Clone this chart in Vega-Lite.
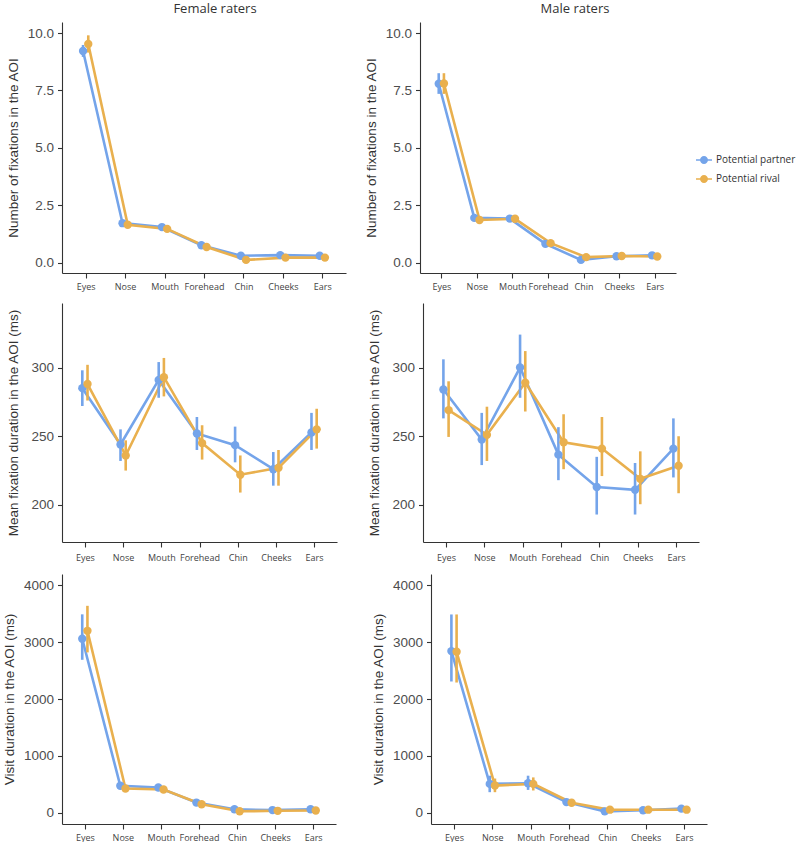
{
"$schema": "https://vega.github.io/schema/vega-lite/v6.json",
"padding": {"left": 2, "top": 3, "right": 0, "bottom": 0},
"background": "white",
"config": {
 "view": {"stroke": null},
 "axis": {"grid": false, "domainColor": "#333333", "tickColor": "#333333", "domainWidth": 1.1, "tickWidth": 1.1, "labelColor": "#4d4d4d", "titleColor": "#333333", "labelFont": "Liberation Sans", "titleFont": "Liberation Sans", "titleFontWeight": "normal"},
 "axisX": {"labelFont": "Open Sans", "labelFontSize": 9, "labelColor": "#444444", "tickSize": 5, "labelPadding": 4, "labelAngle": 0, "title": null},
 "axisY": {"labelFontSize": 13.5, "titleFontSize": 13.5, "tickSize": 4.5, "labelPadding": 4, "titlePadding": 7},
 "title": {"font": "Open Sans", "fontSize": 13, "fontWeight": "normal", "color": "#333333", "offset": 6, "frame": "group", "anchor": "middle"}
},
"datasets": {"d": [
{"r":"F","m":"fix","aoi":"Eyes","cond":"Potential partner","mean":9.22,"lo":8.96,"hi":9.48},
{"r":"F","m":"fix","aoi":"Nose","cond":"Potential partner","mean":1.72,"lo":1.6,"hi":1.84},
{"r":"F","m":"fix","aoi":"Mouth","cond":"Potential partner","mean":1.55,"lo":1.45,"hi":1.65},
{"r":"F","m":"fix","aoi":"Forehead","cond":"Potential partner","mean":0.76,"lo":0.68,"hi":0.84},
{"r":"F","m":"fix","aoi":"Chin","cond":"Potential partner","mean":0.3,"lo":0.24,"hi":0.36},
{"r":"F","m":"fix","aoi":"Cheeks","cond":"Potential partner","mean":0.33,"lo":0.27,"hi":0.39},
{"r":"F","m":"fix","aoi":"Ears","cond":"Potential partner","mean":0.3,"lo":0.24,"hi":0.36},
{"r":"F","m":"fix","aoi":"Eyes","cond":"Potential rival","mean":9.52,"lo":9.15,"hi":9.9},
{"r":"F","m":"fix","aoi":"Nose","cond":"Potential rival","mean":1.65,"lo":1.55,"hi":1.75},
{"r":"F","m":"fix","aoi":"Mouth","cond":"Potential rival","mean":1.47,"lo":1.37,"hi":1.57},
{"r":"F","m":"fix","aoi":"Forehead","cond":"Potential rival","mean":0.68,"lo":0.6,"hi":0.76},
{"r":"F","m":"fix","aoi":"Chin","cond":"Potential rival","mean":0.12,"lo":0.08,"hi":0.16},
{"r":"F","m":"fix","aoi":"Cheeks","cond":"Potential rival","mean":0.22,"lo":0.17,"hi":0.27},
{"r":"F","m":"fix","aoi":"Ears","cond":"Potential rival","mean":0.22,"lo":0.17,"hi":0.27},
{"r":"M","m":"fix","aoi":"Eyes","cond":"Potential partner","mean":7.79,"lo":7.35,"hi":8.25},
{"r":"M","m":"fix","aoi":"Nose","cond":"Potential partner","mean":1.95,"lo":1.83,"hi":2.07},
{"r":"M","m":"fix","aoi":"Mouth","cond":"Potential partner","mean":1.92,"lo":1.8,"hi":2.04},
{"r":"M","m":"fix","aoi":"Forehead","cond":"Potential partner","mean":0.82,"lo":0.74,"hi":0.9},
{"r":"M","m":"fix","aoi":"Chin","cond":"Potential partner","mean":0.12,"lo":0.08,"hi":0.16},
{"r":"M","m":"fix","aoi":"Cheeks","cond":"Potential partner","mean":0.28,"lo":0.23,"hi":0.33},
{"r":"M","m":"fix","aoi":"Ears","cond":"Potential partner","mean":0.32,"lo":0.26,"hi":0.38},
{"r":"M","m":"fix","aoi":"Eyes","cond":"Potential rival","mean":7.8,"lo":7.35,"hi":8.25},
{"r":"M","m":"fix","aoi":"Nose","cond":"Potential rival","mean":1.86,"lo":1.75,"hi":1.97},
{"r":"M","m":"fix","aoi":"Mouth","cond":"Potential rival","mean":1.91,"lo":1.8,"hi":2.02},
{"r":"M","m":"fix","aoi":"Forehead","cond":"Potential rival","mean":0.85,"lo":0.77,"hi":0.93},
{"r":"M","m":"fix","aoi":"Chin","cond":"Potential rival","mean":0.24,"lo":0.19,"hi":0.29},
{"r":"M","m":"fix","aoi":"Cheeks","cond":"Potential rival","mean":0.29,"lo":0.24,"hi":0.34},
{"r":"M","m":"fix","aoi":"Ears","cond":"Potential rival","mean":0.27,"lo":0.22,"hi":0.32},
{"r":"F","m":"dur","aoi":"Eyes","cond":"Potential partner","mean":285,"lo":272,"hi":298},
{"r":"F","m":"dur","aoi":"Nose","cond":"Potential partner","mean":244,"lo":232,"hi":255},
{"r":"F","m":"dur","aoi":"Mouth","cond":"Potential partner","mean":291,"lo":278,"hi":304},
{"r":"F","m":"dur","aoi":"Forehead","cond":"Potential partner","mean":252,"lo":240,"hi":264},
{"r":"F","m":"dur","aoi":"Chin","cond":"Potential partner","mean":243.5,"lo":231,"hi":257},
{"r":"F","m":"dur","aoi":"Cheeks","cond":"Potential partner","mean":226,"lo":214,"hi":238.5},
{"r":"F","m":"dur","aoi":"Ears","cond":"Potential partner","mean":252.7,"lo":240,"hi":267},
{"r":"F","m":"dur","aoi":"Eyes","cond":"Potential rival","mean":288,"lo":276,"hi":302},
{"r":"F","m":"dur","aoi":"Nose","cond":"Potential rival","mean":236,"lo":225,"hi":247},
{"r":"F","m":"dur","aoi":"Mouth","cond":"Potential rival","mean":293,"lo":279,"hi":307},
{"r":"F","m":"dur","aoi":"Forehead","cond":"Potential rival","mean":245,"lo":233,"hi":258},
{"r":"F","m":"dur","aoi":"Chin","cond":"Potential rival","mean":222,"lo":209,"hi":236},
{"r":"F","m":"dur","aoi":"Cheeks","cond":"Potential rival","mean":227,"lo":214,"hi":240},
{"r":"F","m":"dur","aoi":"Ears","cond":"Potential rival","mean":255,"lo":241,"hi":270},
{"r":"M","m":"dur","aoi":"Eyes","cond":"Potential partner","mean":284,"lo":263,"hi":306},
{"r":"M","m":"dur","aoi":"Nose","cond":"Potential partner","mean":247.6,"lo":229,"hi":267},
{"r":"M","m":"dur","aoi":"Mouth","cond":"Potential partner","mean":300,"lo":278,"hi":324},
{"r":"M","m":"dur","aoi":"Forehead","cond":"Potential partner","mean":236.6,"lo":218,"hi":256.6},
{"r":"M","m":"dur","aoi":"Chin","cond":"Potential partner","mean":213,"lo":193,"hi":235},
{"r":"M","m":"dur","aoi":"Cheeks","cond":"Potential partner","mean":211,"lo":193,"hi":230.5},
{"r":"M","m":"dur","aoi":"Ears","cond":"Potential partner","mean":241,"lo":220,"hi":263},
{"r":"M","m":"dur","aoi":"Eyes","cond":"Potential rival","mean":269,"lo":249.5,"hi":290},
{"r":"M","m":"dur","aoi":"Nose","cond":"Potential rival","mean":251,"lo":232,"hi":271.5},
{"r":"M","m":"dur","aoi":"Mouth","cond":"Potential rival","mean":289,"lo":268,"hi":312},
{"r":"M","m":"dur","aoi":"Forehead","cond":"Potential rival","mean":245.6,"lo":226,"hi":266},
{"r":"M","m":"dur","aoi":"Chin","cond":"Potential rival","mean":241,"lo":221,"hi":264},
{"r":"M","m":"dur","aoi":"Cheeks","cond":"Potential rival","mean":219,"lo":200.5,"hi":239},
{"r":"M","m":"dur","aoi":"Ears","cond":"Potential rival","mean":228.5,"lo":208.5,"hi":250},
{"r":"F","m":"vis","aoi":"Eyes","cond":"Potential partner","mean":3060,"lo":2690,"hi":3490},
{"r":"F","m":"vis","aoi":"Nose","cond":"Potential partner","mean":473,"lo":420,"hi":530},
{"r":"F","m":"vis","aoi":"Mouth","cond":"Potential partner","mean":443,"lo":400,"hi":490},
{"r":"F","m":"vis","aoi":"Forehead","cond":"Potential partner","mean":177,"lo":150,"hi":205},
{"r":"F","m":"vis","aoi":"Chin","cond":"Potential partner","mean":59,"lo":45,"hi":75},
{"r":"F","m":"vis","aoi":"Cheeks","cond":"Potential partner","mean":45,"lo":32,"hi":58},
{"r":"F","m":"vis","aoi":"Ears","cond":"Potential partner","mean":59,"lo":45,"hi":75},
{"r":"F","m":"vis","aoi":"Eyes","cond":"Potential rival","mean":3200,"lo":2820,"hi":3640},
{"r":"F","m":"vis","aoi":"Nose","cond":"Potential rival","mean":425,"lo":380,"hi":470},
{"r":"F","m":"vis","aoi":"Mouth","cond":"Potential rival","mean":408,"lo":365,"hi":450},
{"r":"F","m":"vis","aoi":"Forehead","cond":"Potential rival","mean":148,"lo":125,"hi":172},
{"r":"F","m":"vis","aoi":"Chin","cond":"Potential rival","mean":24,"lo":15,"hi":35},
{"r":"F","m":"vis","aoi":"Cheeks","cond":"Potential rival","mean":32,"lo":22,"hi":42},
{"r":"F","m":"vis","aoi":"Ears","cond":"Potential rival","mean":38,"lo":27,"hi":50},
{"r":"M","m":"vis","aoi":"Eyes","cond":"Potential partner","mean":2843,"lo":2308,"hi":3488},
{"r":"M","m":"vis","aoi":"Nose","cond":"Potential partner","mean":506,"lo":360,"hi":650},
{"r":"M","m":"vis","aoi":"Mouth","cond":"Potential partner","mean":517,"lo":400,"hi":650},
{"r":"M","m":"vis","aoi":"Forehead","cond":"Potential partner","mean":186,"lo":150,"hi":225},
{"r":"M","m":"vis","aoi":"Chin","cond":"Potential partner","mean":23,"lo":10,"hi":40},
{"r":"M","m":"vis","aoi":"Cheeks","cond":"Potential partner","mean":41,"lo":28,"hi":55},
{"r":"M","m":"vis","aoi":"Ears","cond":"Potential partner","mean":70,"lo":50,"hi":90},
{"r":"M","m":"vis","aoi":"Eyes","cond":"Potential rival","mean":2831,"lo":2290,"hi":3488},
{"r":"M","m":"vis","aoi":"Nose","cond":"Potential rival","mean":477,"lo":360,"hi":600},
{"r":"M","m":"vis","aoi":"Mouth","cond":"Potential rival","mean":506,"lo":390,"hi":620},
{"r":"M","m":"vis","aoi":"Forehead","cond":"Potential rival","mean":174,"lo":140,"hi":210},
{"r":"M","m":"vis","aoi":"Chin","cond":"Potential rival","mean":52,"lo":35,"hi":70},
{"r":"M","m":"vis","aoi":"Cheeks","cond":"Potential rival","mean":52,"lo":38,"hi":66},
{"r":"M","m":"vis","aoi":"Ears","cond":"Potential rival","mean":52,"lo":38,"hi":66}
]},
"data": {"name": "d"},
"spacing": 12,
"vconcat": [
 {"spacing": 18, "hconcat": [
  {"width": 284, "height": 251, "title": {"text": "Female raters", "dx": 11},
   "transform": [{"filter": "datum.r == 'F' && datum.m == 'fix'"}],
   "encoding": {
    "x": {"field": "aoi", "type": "nominal", "sort": ["Eyes","Nose","Mouth","Forehead","Chin","Cheeks","Ears"], "scale": {"type": "point", "padding": 0.6}},
    "xOffset": {"field": "cond", "type": "nominal", "sort": ["Potential partner","Potential rival"], "scale": {"type": "point", "range": [-2.6, 2.6], "padding": 0}},
    "color": {"field": "cond", "type": "nominal", "scale": {"domain": ["Potential partner","Potential rival"], "range": ["#74a4ea","#e9b04e"]}, "legend": {"orient": "none", "legendX": 634, "legendY": 130, "title": null, "labelFont": "Open Sans", "labelFontSize": 10, "labelColor": "#333333", "symbolType": "M-1,-0.09H1V0.09H-1Z M0.5,0A0.5,0.5 0 1 1 -0.5,0A0.5,0.5 0 1 1 0.5,0Z", "symbolSize": 256, "symbolStrokeWidth": 0, "rowPadding": 6, "labelOffset": 4, "encode": {"symbols": {"update": {"fill": {"scale": "color", "field": "value"}, "fillOpacity": {"value": 1}}}}}}
   },
   "layer": [
    {"mark": {"type": "line", "strokeWidth": 2.6}, "encoding": {"y": {"field": "mean", "type": "quantitative", "title": "Number of fixations in the AOI", "scale": {"domain": [-0.45, 10.48], "nice": false, "zero": false}, "axis": {"values": [0, 2.5, 5, 7.5, 10], "format": ".1f"}}}},
    {"mark": {"type": "rule", "strokeWidth": 2.6}, "encoding": {"y": {"field": "lo", "type": "quantitative", "title": "Number of fixations in the AOI"}, "y2": {"field": "hi"}}},
    {"mark": {"type": "point", "filled": true, "size": 70, "opacity": 1}, "encoding": {"y": {"field": "mean", "type": "quantitative", "title": "Number of fixations in the AOI"}}}
   ]},
  {"width": 256, "height": 251, "title": {"text": "Male raters", "dx": 27},
   "transform": [{"filter": "datum.r == 'M' && datum.m == 'fix'"}],
   "encoding": {
    "x": {"field": "aoi", "type": "nominal", "sort": ["Eyes","Nose","Mouth","Forehead","Chin","Cheeks","Ears"], "scale": {"type": "point", "padding": 0.6}},
    "xOffset": {"field": "cond", "type": "nominal", "sort": ["Potential partner","Potential rival"], "scale": {"type": "point", "range": [-2.6, 2.6], "padding": 0}},
    "color": {"field": "cond", "type": "nominal", "scale": {"domain": ["Potential partner","Potential rival"], "range": ["#74a4ea","#e9b04e"]}, "legend": {"orient": "none", "legendX": 634, "legendY": 130, "title": null, "labelFont": "Open Sans", "labelFontSize": 10, "labelColor": "#333333", "symbolType": "M-1,-0.09H1V0.09H-1Z M0.5,0A0.5,0.5 0 1 1 -0.5,0A0.5,0.5 0 1 1 0.5,0Z", "symbolSize": 256, "symbolStrokeWidth": 0, "rowPadding": 6, "labelOffset": 4, "encode": {"symbols": {"update": {"fill": {"scale": "color", "field": "value"}, "fillOpacity": {"value": 1}}}}}}
   },
   "layer": [
    {"mark": {"type": "line", "strokeWidth": 2.6}, "encoding": {"y": {"field": "mean", "type": "quantitative", "title": "Number of fixations in the AOI", "scale": {"domain": [-0.45, 10.48], "nice": false, "zero": false}, "axis": {"values": [0, 2.5, 5, 7.5, 10], "format": ".1f"}}}},
    {"mark": {"type": "rule", "strokeWidth": 2.6}, "encoding": {"y": {"field": "lo", "type": "quantitative", "title": "Number of fixations in the AOI"}, "y2": {"field": "hi"}}},
    {"mark": {"type": "point", "filled": true, "size": 70, "opacity": 1}, "encoding": {"y": {"field": "mean", "type": "quantitative", "title": "Number of fixations in the AOI"}}}
   ]}
 ]},
 {"spacing": 30, "hconcat": [
  {"width": 275, "height": 239,
   "transform": [{"filter": "datum.r == 'F' && datum.m == 'dur'"}],
   "encoding": {
    "x": {"field": "aoi", "type": "nominal", "sort": ["Eyes","Nose","Mouth","Forehead","Chin","Cheeks","Ears"], "scale": {"type": "point", "padding": 0.6}, "axis": {"labelPadding": 6}},
    "xOffset": {"field": "cond", "type": "nominal", "sort": ["Potential partner","Potential rival"], "scale": {"type": "point", "range": [-2.6, 2.6], "padding": 0}},
    "color": {"field": "cond", "type": "nominal", "scale": {"domain": ["Potential partner","Potential rival"], "range": ["#74a4ea","#e9b04e"]}, "legend": {"orient": "none", "legendX": 634, "legendY": 130, "title": null, "labelFont": "Open Sans", "labelFontSize": 10, "labelColor": "#333333", "symbolType": "M-1,-0.09H1V0.09H-1Z M0.5,0A0.5,0.5 0 1 1 -0.5,0A0.5,0.5 0 1 1 0.5,0Z", "symbolSize": 256, "symbolStrokeWidth": 0, "rowPadding": 6, "labelOffset": 4, "encode": {"symbols": {"update": {"fill": {"scale": "color", "field": "value"}, "fillOpacity": {"value": 1}}}}}}
   },
   "layer": [
    {"mark": {"type": "line", "strokeWidth": 2.6}, "encoding": {"y": {"field": "mean", "type": "quantitative", "title": "Mean fixation duration in the AOI (ms)", "scale": {"domain": [173, 347], "nice": false, "zero": false}, "axis": {"values": [200, 250, 300], "titlePadding": 10}}}},
    {"mark": {"type": "rule", "strokeWidth": 2.6}, "encoding": {"y": {"field": "lo", "type": "quantitative", "title": "Mean fixation duration in the AOI (ms)"}, "y2": {"field": "hi"}}},
    {"mark": {"type": "point", "filled": true, "size": 70, "opacity": 1}, "encoding": {"y": {"field": "mean", "type": "quantitative", "title": "Mean fixation duration in the AOI (ms)"}}}
   ]},
  {"width": 276, "height": 239,
   "transform": [{"filter": "datum.r == 'M' && datum.m == 'dur'"}],
   "encoding": {
    "x": {"field": "aoi", "type": "nominal", "sort": ["Eyes","Nose","Mouth","Forehead","Chin","Cheeks","Ears"], "scale": {"type": "point", "padding": 0.6}, "axis": {"labelPadding": 6}},
    "xOffset": {"field": "cond", "type": "nominal", "sort": ["Potential partner","Potential rival"], "scale": {"type": "point", "range": [-2.6, 2.6], "padding": 0}},
    "color": {"field": "cond", "type": "nominal", "scale": {"domain": ["Potential partner","Potential rival"], "range": ["#74a4ea","#e9b04e"]}, "legend": {"orient": "none", "legendX": 634, "legendY": 130, "title": null, "labelFont": "Open Sans", "labelFontSize": 10, "labelColor": "#333333", "symbolType": "M-1,-0.09H1V0.09H-1Z M0.5,0A0.5,0.5 0 1 1 -0.5,0A0.5,0.5 0 1 1 0.5,0Z", "symbolSize": 256, "symbolStrokeWidth": 0, "rowPadding": 6, "labelOffset": 4, "encode": {"symbols": {"update": {"fill": {"scale": "color", "field": "value"}, "fillOpacity": {"value": 1}}}}}}
   },
   "layer": [
    {"mark": {"type": "line", "strokeWidth": 2.6}, "encoding": {"y": {"field": "mean", "type": "quantitative", "title": "Mean fixation duration in the AOI (ms)", "scale": {"domain": [173, 347], "nice": false, "zero": false}, "axis": {"values": [200, 250, 300], "titlePadding": 10}}}},
    {"mark": {"type": "rule", "strokeWidth": 2.6}, "encoding": {"y": {"field": "lo", "type": "quantitative", "title": "Mean fixation duration in the AOI (ms)"}, "y2": {"field": "hi"}}},
    {"mark": {"type": "point", "filled": true, "size": 70, "opacity": 1}, "encoding": {"y": {"field": "mean", "type": "quantitative", "title": "Mean fixation duration in the AOI (ms)"}}}
   ]}
 ]},
 {"spacing": 35, "hconcat": [
  {"width": 274, "height": 250,
   "transform": [{"filter": "datum.r == 'F' && datum.m == 'vis'"}],
   "encoding": {
    "x": {"field": "aoi", "type": "nominal", "sort": ["Eyes","Nose","Mouth","Forehead","Chin","Cheeks","Ears"], "scale": {"type": "point", "padding": 0.6}},
    "xOffset": {"field": "cond", "type": "nominal", "sort": ["Potential partner","Potential rival"], "scale": {"type": "point", "range": [-2.6, 2.6], "padding": 0}},
    "color": {"field": "cond", "type": "nominal", "scale": {"domain": ["Potential partner","Potential rival"], "range": ["#74a4ea","#e9b04e"]}, "legend": {"orient": "none", "legendX": 634, "legendY": 130, "title": null, "labelFont": "Open Sans", "labelFontSize": 10, "labelColor": "#333333", "symbolType": "M-1,-0.09H1V0.09H-1Z M0.5,0A0.5,0.5 0 1 1 -0.5,0A0.5,0.5 0 1 1 0.5,0Z", "symbolSize": 256, "symbolStrokeWidth": 0, "rowPadding": 6, "labelOffset": 4, "encode": {"symbols": {"update": {"fill": {"scale": "color", "field": "value"}, "fillOpacity": {"value": 1}}}}}}
   },
   "layer": [
    {"mark": {"type": "line", "strokeWidth": 2.6}, "encoding": {"y": {"field": "mean", "type": "quantitative", "title": "Visit duration in the AOI (ms)", "scale": {"domain": [-200, 4200], "nice": false, "zero": false}, "axis": {"values": [0, 1000, 2000, 3000, 4000], "format": "d"}}}},
    {"mark": {"type": "rule", "strokeWidth": 2.6}, "encoding": {"y": {"field": "lo", "type": "quantitative", "title": "Visit duration in the AOI (ms)"}, "y2": {"field": "hi"}}},
    {"mark": {"type": "point", "filled": true, "size": 70, "opacity": 1}, "encoding": {"y": {"field": "mean", "type": "quantitative", "title": "Visit duration in the AOI (ms)"}}}
   ]},
  {"width": 276, "height": 250,
   "transform": [{"filter": "datum.r == 'M' && datum.m == 'vis'"}],
   "encoding": {
    "x": {"field": "aoi", "type": "nominal", "sort": ["Eyes","Nose","Mouth","Forehead","Chin","Cheeks","Ears"], "scale": {"type": "point", "padding": 0.6}},
    "xOffset": {"field": "cond", "type": "nominal", "sort": ["Potential partner","Potential rival"], "scale": {"type": "point", "range": [-2.6, 2.6], "padding": 0}},
    "color": {"field": "cond", "type": "nominal", "scale": {"domain": ["Potential partner","Potential rival"], "range": ["#74a4ea","#e9b04e"]}, "legend": {"orient": "none", "legendX": 634, "legendY": 130, "title": null, "labelFont": "Open Sans", "labelFontSize": 10, "labelColor": "#333333", "symbolType": "M-1,-0.09H1V0.09H-1Z M0.5,0A0.5,0.5 0 1 1 -0.5,0A0.5,0.5 0 1 1 0.5,0Z", "symbolSize": 256, "symbolStrokeWidth": 0, "rowPadding": 6, "labelOffset": 4, "encode": {"symbols": {"update": {"fill": {"scale": "color", "field": "value"}, "fillOpacity": {"value": 1}}}}}}
   },
   "layer": [
    {"mark": {"type": "line", "strokeWidth": 2.6}, "encoding": {"y": {"field": "mean", "type": "quantitative", "title": "Visit duration in the AOI (ms)", "scale": {"domain": [-200, 4200], "nice": false, "zero": false}, "axis": {"values": [0, 1000, 2000, 3000, 4000], "format": "d"}}}},
    {"mark": {"type": "rule", "strokeWidth": 2.6}, "encoding": {"y": {"field": "lo", "type": "quantitative", "title": "Visit duration in the AOI (ms)"}, "y2": {"field": "hi"}}},
    {"mark": {"type": "point", "filled": true, "size": 70, "opacity": 1}, "encoding": {"y": {"field": "mean", "type": "quantitative", "title": "Visit duration in the AOI (ms)"}}}
   ]}
 ]}
]
}
